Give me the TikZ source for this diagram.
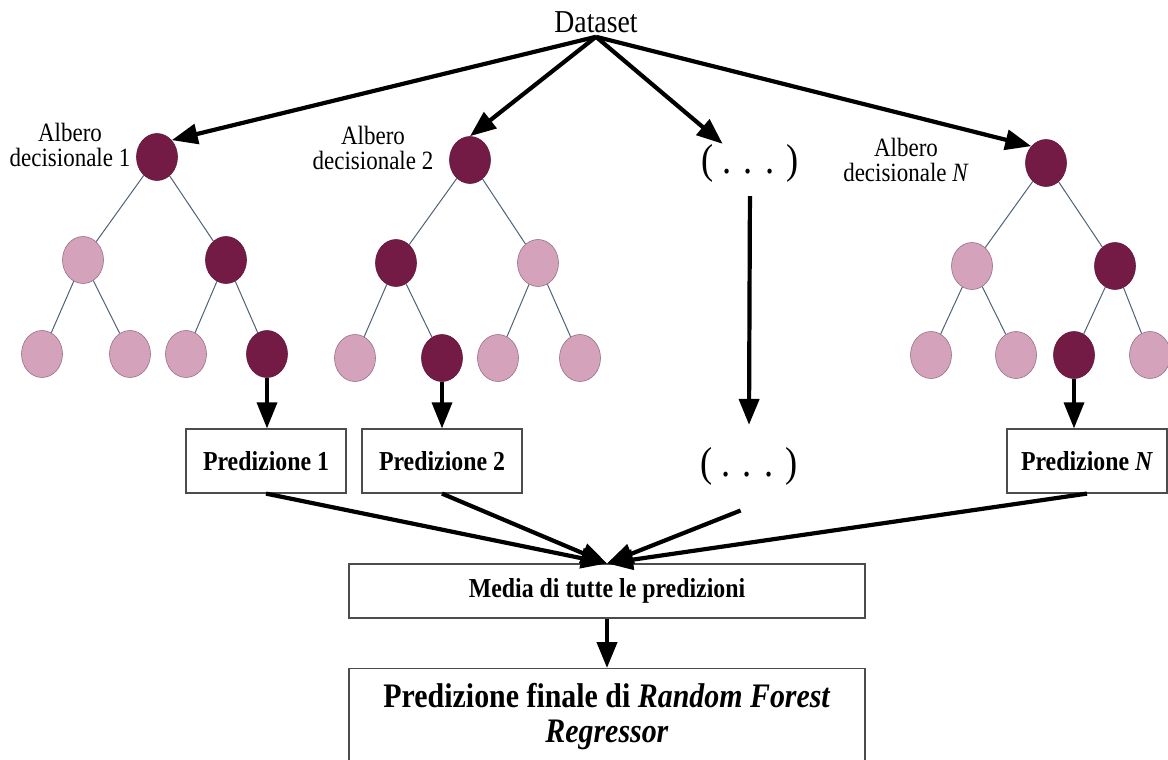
\documentclass[tikz,border=0pt]{standalone}
\usepackage{fontspec}
\setmainfont{Liberation Serif}[FakeStretch=0.87]
\usetikzlibrary{shapes.geometric,arrows.meta}
\definecolor{darkleaf}{HTML}{731B45}
\definecolor{lightleaf}{HTML}{D4A2BB}
\definecolor{edgeblue}{HTML}{4E6275}
\tikzset{
  dk/.style={ellipse,fill=darkleaf,draw=darkleaf!85!black,line width=0.6bp,minimum width=41bp,minimum height=47bp,inner sep=0},
  lt/.style={ellipse,fill=lightleaf,draw=lightleaf!70!black,line width=0.6bp,minimum width=41bp,minimum height=47bp,inner sep=0},
  br/.style={draw=edgeblue,line width=1bp},
  big/.style={line width=4.2bp,-{Triangle[length=26bp,width=20bp]}},
  lbl/.style={align=center,font=\fontsize{26.5}{25}\selectfont,inner sep=0},
  dots/.style={font=\fontsize{42}{42}\selectfont,inner sep=0},
  pbox/.style={draw=black!70,line width=1.2bp,minimum width=160bp,minimum height=64bp,font=\fontsize{27.5}{30}\selectfont\bfseries},
}
\begin{document}
\begin{tikzpicture}[x=1bp,y=-1bp]
\useasboundingbox (0,0) rectangle (1168,760);
\node[font=\fontsize{32}{32}\selectfont,inner sep=4bp] (ds) at (596,22) {Dataset};
% tree 1
\node[dk] (t1r) at (157,157) {};
\node[lt] (t1a) at (83,260) {};
\node[dk] (t1b) at (226,260) {};
\node[lt] (t1c) at (42,354) {};
\node[lt] (t1d) at (130,354) {};
\node[lt] (t1e) at (186,354) {};
\node[dk] (t1f) at (267,354) {};
% tree 2
\node[dk] (t2r) at (470,160) {};
\node[dk] (t2a) at (396,263) {};
\node[lt] (t2b) at (538,263) {};
\node[lt] (t2c) at (355,358) {};
\node[dk] (t2d) at (442,358) {};
\node[lt] (t2e) at (498,358) {};
\node[lt] (t2f) at (580,358) {};
% tree N
\node[dk] (t3r) at (1046,163) {};
\node[lt] (t3a) at (972,266) {};
\node[dk] (t3b) at (1115,266) {};
\node[lt] (t3c) at (931,355) {};
\node[lt] (t3d) at (1016,355) {};
\node[dk] (t3e) at (1074,355) {};
\node[lt] (t3f) at (1150,355) {};
\foreach \t in {1,2,3}{
  \draw[br] (t\t r) -- (t\t a) (t\t r) -- (t\t b)
            (t\t a) -- (t\t c) (t\t a) -- (t\t d)
            (t\t b) -- (t\t e) (t\t b) -- (t\t f);
}
\node[lbl] (l1) at (70,145) {Albero\\decisionale 1};
\node[lbl] (l2) at (373,148) {Albero\\decisionale 2};
\node[lbl] (l3) at (906,160) {Albero\\decisionale \textit{N}};
\node[dots] (d1) at (750,163) {( . . . )};
\node[dots,inner ysep=22bp] (d2) at (749,466) {( . . . )};
\node[pbox] (p1) at (266,461) {Predizione 1};
\node[pbox] (p2) at (442,461) {Predizione 2};
\node[pbox] (p3) at (1087,461) {Predizione \textit{N}};
\node[draw=black!70,line width=1.2bp,minimum width=516bp,minimum height=54bp,font=\fontsize{27.5}{30}\selectfont\bfseries] (md) at (607,591) {Media di tutte le predizioni};
\node[draw=black!70,line width=1.2bp,minimum width=516bp,minimum height=96bp,anchor=north,align=center,font=\fontsize{34.5}{35}\selectfont\bfseries] (fin) at (607,668) {Predizione finale di \textit{Random Forest}\\\textit{Regressor}};
\draw[big] (ds.south) -- (t1r.north east);
\draw[big] (ds.south) -- (t2r.north);
\draw[big] (ds.south) -- (d1.145);
\draw[big] (ds.south) -- (t3r.north west);
\draw[big,shorten <=14bp] (d1.south) -- (d2.north);
\draw[big,line width=3.5bp] (t1f.south) -- (t1f.south |- p1.north);
\draw[big,line width=3.5bp] (t2d.south) -- (t2d.south |- p2.north);
\draw[big,line width=3.5bp] (t3e.south) -- (t3e.south |- p3.north);
\draw[big] (p1.south) -- (md.north);
\draw[big] (p2.south) -- (md.north);
\draw[big,shorten <=9bp] (d2.south) -- (md.north);
\draw[big] (p3.south) -- (md.north);
\draw[big] (md.south) -- (fin.north);
\end{tikzpicture}
\end{document}
